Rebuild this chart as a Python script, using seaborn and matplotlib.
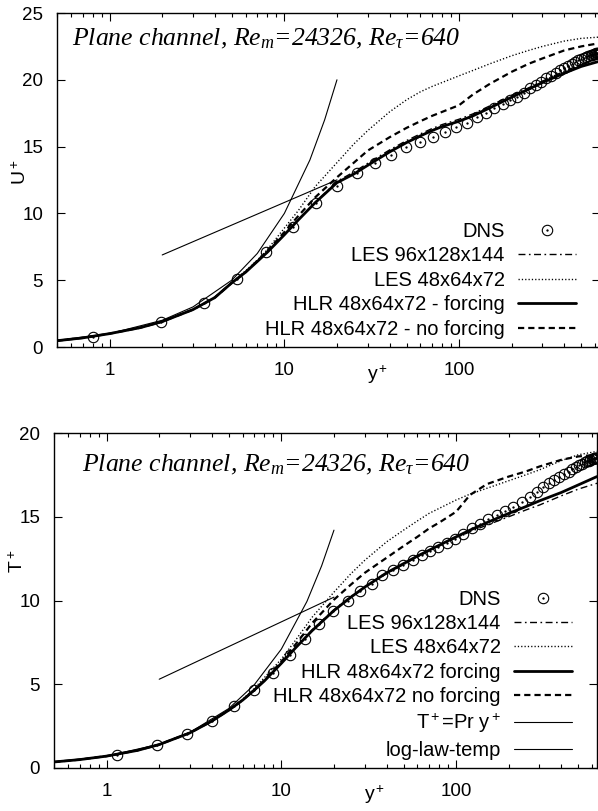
import matplotlib
matplotlib.use("Agg")
import matplotlib.pyplot as plt
import seaborn as sns
from matplotlib.ticker import FixedLocator, FixedFormatter, LogLocator, NullFormatter

# ---------------- velocity profile U+ ----------------
dns_u_y = [0.80, 1.96, 3.46, 5.35, 7.9, 11.2, 15.1, 20, 26, 33, 40.8, 49.7, 59.7, 71, 83, 96,
           111, 127, 142, 159, 178, 195, 215, 236, 256, 276, 296, 316, 336, 357, 378, 399,
           420, 440, 460, 480, 499, 517, 534, 550, 565, 578, 590, 601, 611, 619, 626, 632,
           636, 639, 640]
dns_u = [0.75, 1.87, 3.3, 5.1, 7.1, 9.0, 10.8, 12.05, 13.0, 13.8, 14.4, 15.0, 15.35, 15.7,
         16.1, 16.5, 16.8, 17.2, 17.5, 17.9, 18.2, 18.5, 18.7, 19.0, 19.35, 19.6, 19.85,
         20.1, 20.3, 20.5, 20.7, 20.9, 21.05, 21.2, 21.35, 21.45, 21.55, 21.65, 21.72,
         21.78, 21.84, 21.88, 21.92, 21.95, 21.97, 21.98, 21.99, 22.0, 22.0, 22.0, 22.0]

yp = [0.5, 0.7, 1, 1.5, 2, 3, 4, 5, 6, 7, 8, 10, 12, 15, 20, 25, 30, 40, 50, 60, 70, 80,
      100, 120, 150, 200, 250, 300, 400, 500, 640]

u_les_fine = [0.47, 0.68, 1.0, 1.45, 1.9, 2.8, 3.7, 4.8, 5.6, 6.4, 7.1, 8.4, 9.5, 10.8, 12.4,
              13.1, 13.75, 14.75, 15.45, 15.95, 16.35, 16.65, 17.05, 17.45, 18.05, 18.85,
              19.4, 19.9, 20.65, 21.15, 21.6]
u_les_coarse = [0.47, 0.68, 1.0, 1.45, 1.9, 2.8, 3.7, 4.85, 5.7, 6.5, 7.3, 8.9, 10.2, 12.0,
                13.8, 15.2, 16.2, 17.6, 18.5, 19.1, 19.5, 19.8, 20.3, 20.7, 21.2, 21.8, 22.2,
                22.5, 22.9, 23.1, 23.2]
u_hlr_forcing = [0.47, 0.68, 1.0, 1.45, 1.9, 2.8, 3.7, 4.8, 5.6, 6.4, 7.1, 8.4, 9.5, 10.8,
                 12.3, 12.95, 13.6, 14.6, 15.3, 15.8, 16.2, 16.5, 16.9, 17.3, 17.9, 18.7,
                 19.3, 19.8, 20.5, 21.0, 21.4]
u_hlr_noforcing = [0.47, 0.68, 1.0, 1.45, 1.9, 2.8, 3.7, 4.8, 5.6, 6.45, 7.2, 8.6, 9.8, 11.2,
                   12.7, 13.8, 14.7, 15.7, 16.4, 16.9, 17.3, 17.6, 18.1, 18.9, 19.7, 20.6,
                   21.2, 21.6, 22.2, 22.5, 22.75]

visc_y = [0.5, 1, 2, 3, 5, 7, 10, 14, 17, 20]
visc_u = [0.5, 1, 2, 3, 5, 7, 10, 14, 17, 20]
loglaw_y = [2, 20]
loglaw_u = [6.89, 12.51]

# ---------------- temperature profile T+ ----------------
dns_t_y = [1.14, 1.94, 2.9, 4.0, 5.36, 6.98, 8.9, 11.2, 13.6, 16.5, 19.7, 24, 28, 33, 37.7,
           43.7, 49.7, 56.7, 63.8, 71, 79, 89, 99, 110, 124, 137, 153, 172, 191, 212, 239,
           265, 291, 315, 340, 365, 390, 415, 440, 463, 485, 506, 525, 543, 559, 574, 587,
           598, 608, 617, 624, 630, 635, 638, 640]
dns_t = [0.78, 1.37, 2.03, 2.8, 3.7, 4.65, 5.7, 6.75, 7.7, 8.6, 9.37, 9.97, 10.57, 11.0,
         11.5, 11.8, 12.1, 12.4, 12.7, 12.96, 13.2, 13.45, 13.7, 14.0, 14.3, 14.55, 14.85,
         15.1, 15.35, 15.6, 15.9, 16.2, 16.5, 16.75, 17.0, 17.2, 17.4, 17.55, 17.7, 17.85,
         17.97, 18.08, 18.17, 18.25, 18.3, 18.35, 18.4, 18.43, 18.46, 18.48, 18.5, 18.5,
         18.5, 18.5, 18.5]

t_les_fine = [0.36, 0.5, 0.71, 1.05, 1.4, 2.1, 2.8, 3.45, 4.05, 4.65, 5.2, 6.25, 7.15, 8.25,
              9.45, 10.25, 10.8, 11.6, 12.15, 12.6, 12.95, 13.25, 13.75, 14.1, 14.5, 15.0,
              15.4, 15.7, 16.25, 16.65, 17.0]
t_les_coarse = [0.36, 0.5, 0.71, 1.05, 1.4, 2.1, 2.8, 3.45, 4.1, 4.75, 5.4, 6.5, 7.6, 9.0,
                10.5, 11.6, 12.4, 13.5, 14.2, 14.75, 15.2, 15.5, 16.0, 16.35, 16.7, 17.15,
                17.5, 17.8, 18.35, 18.7, 18.9]
t_hlr_forcing = [0.36, 0.5, 0.71, 1.05, 1.4, 2.1, 2.8, 3.45, 4.05, 4.65, 5.2, 6.25, 7.15,
                 8.2, 9.4, 10.2, 10.8, 11.65, 12.2, 12.65, 13.0, 13.3, 13.8, 14.2, 14.65,
                 15.2, 15.6, 15.95, 16.45, 16.9, 17.4]
t_hlr_noforcing = [0.36, 0.5, 0.71, 1.05, 1.4, 2.1, 2.8, 3.45, 4.05, 4.65, 5.25, 6.35, 7.35,
                   8.65, 10.05, 10.95, 11.65, 12.55, 13.25, 13.8, 14.3, 14.65, 15.3, 16.3,
                   16.95, 17.4, 17.7, 18.0, 18.4, 18.6, 18.7]

cond_y = [0.5, 1, 2, 3, 5, 7, 10, 14, 17, 20]
cond_t = [0.355, 0.71, 1.42, 2.13, 3.55, 4.97, 7.1, 9.94, 12.07, 14.2]
loglaw_t_y = [2, 20]
loglaw_t = [5.3, 10.2]

labels_u = ["DNS", "LES 96x128x144", "LES 48x64x72",
            "HLR 48x64x72 - forcing", "HLR 48x64x72 - no forcing"]
labels_t = ["DNS", "LES 96x128x144", "LES 48x64x72",
            "HLR 48x64x72 forcing", "HLR 48x64x72 no forcing",
            "T$^+$=Pr y$^+$", "log-law-temp"]
title_text = "Plane channel, $Re_m$=24326, $Re_\\tau$=640"

# ---------------- style ----------------
sns.set_theme(style="ticks")
plt.rcParams["font.family"] = ["Liberation Sans", "DejaVu Sans"]
plt.rcParams.update({
    "mathtext.fontset": "custom",
    "mathtext.rm": "Liberation Sans",
    "mathtext.it": "Liberation Serif:italic",
    "mathtext.bf": "Liberation Sans:bold",
    "axes.edgecolor": "black",
    "axes.linewidth": 1.0,
    "xtick.color": "black",
    "ytick.color": "black",
    "text.color": "black",
    "axes.labelcolor": "black",
})

STYLES = {
    "les_fine": dict(color="black", lw=1.0, linestyle=(0, (5, 2.5, 1.2, 2.5))),
    "les_coarse": dict(color="black", lw=1.0, linestyle=(0, (0.9, 1.5))),
    "hlr_forcing": dict(color="black", lw=2.0, linestyle="-"),
    "hlr_noforcing": dict(color="black", lw=1.6, linestyle=(0, (2.8, 1.8))),
    "thin": dict(color="black", lw=0.8, linestyle="-"),
}


def draw_line(ax, x, y, style):
    sns.lineplot(x=x, y=y, ax=ax, estimator=None, sort=False, **STYLES[style])
    return ax.lines[-1]


def draw_dns(ax, x, y):
    sns.lineplot(x=x, y=y, ax=ax, estimator=None, sort=False, linestyle="none",
                 marker="o", markersize=7.5, markerfacecolor="none",
                 markeredgecolor="black", markeredgewidth=0.8, color="black")
    ring = ax.lines[-1]
    sns.lineplot(x=x, y=y, ax=ax, estimator=None, sort=False, linestyle="none",
                 marker="o", markersize=1.3, markerfacecolor="black",
                 markeredgecolor="black", markeredgewidth=0.3, color="black")
    dot = ax.lines[-1]
    return (ring, dot)


def style_axes(ax, ymax, ylabel, ylab_xy, xlab_xy):
    ax.set_xscale("log")
    ax.set_xlim(0.5, 640)
    ax.set_ylim(0, ymax)
    ax.xaxis.set_major_locator(FixedLocator([1, 10, 100]))
    ax.xaxis.set_major_formatter(FixedFormatter(["1", "10", "100"]))
    ax.xaxis.set_minor_locator(LogLocator(base=10, subs=range(2, 10), numticks=20))
    ax.xaxis.set_minor_formatter(NullFormatter())
    ax.set_yticks(range(0, ymax + 1, 5))
    ax.tick_params(which="both", direction="in", top=True, right=True,
                   labelsize=13.5, color="black")
    ax.tick_params(which="major", length=5.5, width=0.8)
    ax.tick_params(which="minor", length=3, width=0.8)
    ax.tick_params(axis="x", which="major", pad=11)
    ax.tick_params(axis="y", which="major", pad=10)
    ax.set_xlabel("y$^+$", fontsize=14)
    ax.set_ylabel(ylabel, fontsize=14)
    ax.yaxis.set_label_coords(*ylab_xy)
    ax.xaxis.set_label_coords(*xlab_xy)
    for sp in ax.spines.values():
        sp.set_visible(True)
        sp.set_color("black")
        sp.set_linewidth(1.0)


LEGEND_KW = dict(loc="lower right", frameon=False, markerfirst=False, fontsize=14.5,
                 handlelength=2.9, handletextpad=0.65, labelspacing=0.27, borderpad=0,
                 borderaxespad=0, numpoints=1)

fig = plt.figure(figsize=(5.98, 8.11), dpi=100)
ax1 = fig.add_axes([57 / 598, 1 - 347 / 811, 543 / 598, 334 / 811])
ax2 = fig.add_axes([54 / 598, 1 - 768 / 811, 543 / 598, 335 / 811])

# ---- upper panel: mean velocity ----
h_dns = draw_dns(ax1, dns_u_y, dns_u)
h1 = draw_line(ax1, yp, u_les_fine, "les_fine")
h2 = draw_line(ax1, yp, u_les_coarse, "les_coarse")
h3 = draw_line(ax1, yp, u_hlr_forcing, "hlr_forcing")
h4 = draw_line(ax1, yp, u_hlr_noforcing, "hlr_noforcing")
draw_line(ax1, visc_y, visc_u, "thin")
draw_line(ax1, loglaw_y, loglaw_u, "thin")
style_axes(ax1, 25, "U$^+$", (-0.05, 0.524), (0.591, -0.048))
ax1.legend([h_dns, h1, h2, h3, h4], labels_u, bbox_to_anchor=(0.956, 0.025), **LEGEND_KW)
ax1.text(0.0276, 0.904, title_text, transform=ax1.transAxes, fontsize=18.5,
         family="Liberation Serif", style="italic", ha="left", va="baseline")

# ---- lower panel: mean temperature ----
g_dns = draw_dns(ax2, dns_t_y, dns_t)
g1 = draw_line(ax2, yp, t_les_fine, "les_fine")
g2 = draw_line(ax2, yp, t_les_coarse, "les_coarse")
g3 = draw_line(ax2, yp, t_hlr_forcing, "hlr_forcing")
g4 = draw_line(ax2, yp, t_hlr_noforcing, "hlr_noforcing")
g5 = draw_line(ax2, cond_y, cond_t, "thin")
g6 = draw_line(ax2, loglaw_t_y, loglaw_t, "thin")
style_axes(ax2, 20, "T$^+$", (-0.05, 0.618), (0.591, -0.045))
ax2.legend([g_dns, g1, g2, g3, g4, g5, g6], labels_t, bbox_to_anchor=(0.954, 0.025),
           **LEGEND_KW)
ax2.text(0.0516, 0.884, title_text, transform=ax2.transAxes, fontsize=18.5,
         family="Liberation Serif", style="italic", ha="left", va="baseline")

fig.savefig("out.png", dpi=100)
